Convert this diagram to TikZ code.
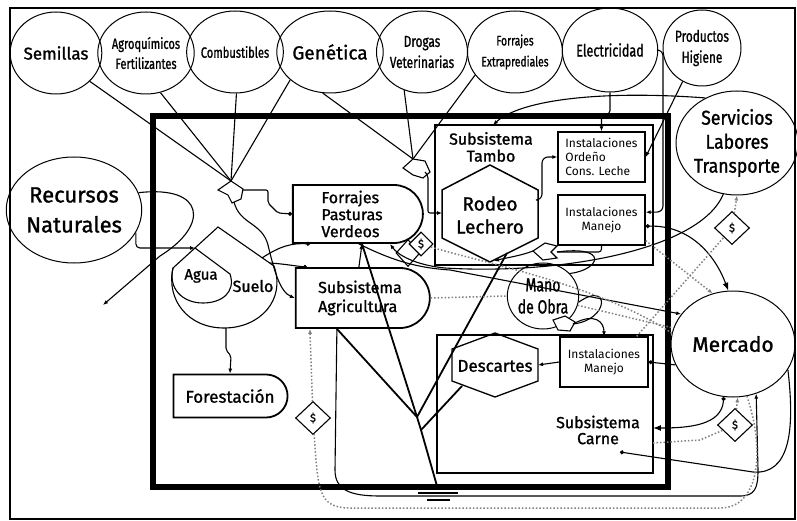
\documentclass[tikz,border=0pt]{standalone}
\usepackage{fontspec}
\setmainfont{Fira Sans}[FakeBold=1.2]
\newfontfamily\plainfont{Fira Sans}
\newfontfamily\narrowfont{Fira Sans}[FakeStretch=0.74, FakeBold=1]
\newfontfamily\semifont{Fira Sans}[FakeStretch=0.88, FakeBold=1.2]
\usetikzlibrary{arrows.meta,calc,positioning,shapes.geometric,shapes.misc}

\tikzset{
  src/.style={draw, ellipse, line width=1pt, inner sep=0pt, align=center},
  unitbox/.style={draw, rounded rectangle, rounded rectangle west arc=none, line width=1.8pt, inner sep=0pt, align=left, font=\fontsize{16}{17}\selectfont},
  instbox/.style={draw, rectangle, line width=1.4pt, inner sep=0pt, minimum width=87pt, minimum height=50pt, font=\plainfont\fontsize{12}{14}\selectfont},
  dollar/.style={draw, diamond, line width=1.1pt, inner sep=0pt, minimum width=35pt, minimum height=33pt, fill=white, font=\fontsize{11}{12}\selectfont},
  flow/.style={line width=1.1pt},
  money/.style={line width=1.5pt, dotted, black!50},
  pipe/.style={line width=1.8pt},
}

\begin{document}
\begin{tikzpicture}[x=1pt,y=-1pt,>={Latex[length=5pt,width=4pt]}]
  \useasboundingbox (0,0) rectangle (797,521);

  % Frames
  \draw[line width=1.8pt] (10,8) rectangle (795,519);
  \draw[line width=6pt] (153,116) rectangle (668,487);

  % Sources outside the farm
  \node[src, minimum width=84pt, minimum height=82pt, font=\fontsize{17}{18}\selectfont] (semillas) at (56,53) {Semillas};
  \node[src, minimum width=86pt, minimum height=82pt, font=\narrowfont\fontsize{15}{20}\selectfont] (agro) at (146,53) {Agroquímicos\\Fertilizantes};
  \node[src, minimum width=84pt, minimum height=82pt, font=\narrowfont\fontsize{15}{17}\selectfont] (comb) at (235,52) {Combustibles};
  \node[src, minimum width=86pt, minimum height=82pt, font=\fontsize{19}{21}\selectfont] (genet) at (330,52) {Genética};
  \node[src, minimum width=84pt, minimum height=82pt, font=\narrowfont\fontsize{16}{21}\selectfont] (drogas) at (422,52) {Drogas\\Veterinarias};
  \node[src, minimum width=82pt, minimum height=82pt, font=\narrowfont\fontsize{14}{21}\selectfont] (forrext) at (515,52) {Forrajes\\Extraprediales};
  \node[src, minimum width=86pt, minimum height=84pt, font=\narrowfont\fontsize{17}{19}\selectfont] (elec) at (610,50) {Electricidad};
  \node[src, minimum width=78pt, minimum height=76pt, font=\narrowfont\fontsize{16}{21}\selectfont] (prod) at (702,48) {Productos\\Higiene};
  \node[src, minimum width=122pt, minimum height=104pt, font=\semifont\fontsize{20}{24}\selectfont] (serv) at (737,143) {Servicios\\Labores\\Transporte};
  \node[src, minimum width=124pt, minimum height=106pt, font=\fontsize{22}{30}\selectfont] (recursos) at (74,210) {Recursos\\Naturales};
  \node[src, minimum width=124pt, minimum height=106pt, font=\fontsize{21}{24}\selectfont] (mercado) at (733,344) {Mercado};
  \node[src, minimum width=70pt, minimum height=66pt, font=\narrowfont\fontsize{19}{22}\selectfont] (mano) at (543,296) {Mano\\de Obra};

  % Soil and water
  \draw[flow] (218,227) -- (274,266) .. controls (286,300) and (260,328) .. (224,328)
    .. controls (188,328) and (166,300) .. (173,268) -- cycle;
  \draw[flow] (195,248) -- (230,274) .. controls (236,292) and (222,303) .. (203,303)
    .. controls (182,303) and (168,288) .. (173,268);
  \node[font=\fontsize{15}{16}\selectfont] (agua) at (201,276) {Agua};
  \node[font=\fontsize{16}{18}\selectfont] (suelo) at (253,286) {Suelo};
  \coordinate (aguatop) at (195,248);
  \coordinate (sueloE) at (262,258);
  \coordinate (sueloF) at (270,263);
  \coordinate (suelobot) at (226,328);

  % Units
  \node[unitbox, minimum width=130pt, minimum height=58pt] (forrajes) at (352,214) {Forrajes\\Pasturas\\Verdeos};
  \node[unitbox, minimum width=134pt, minimum height=60pt, font=\fontsize{16}{19}\selectfont] (agric) at (360,298) {Subsistema\\Agricultura};
  \node[unitbox, minimum width=114pt, minimum height=43pt, font=\fontsize{17}{19}\selectfont] (forest) at (230,396) {Forestación};

  % Subsistema Tambo
  \draw[line width=1.6pt] (435,125) rectangle (653,265);
  \node[font=\fontsize{16}{17}\selectfont, align=center] (tambo) at (491,147) {Subsistema\\Tambo};
  \draw[line width=1.5pt] (490,165) -- (538,190) -- (538,238) -- (490,262) -- (442,238) -- (442,190) -- cycle;
  \node[font=\fontsize{19}{23}\selectfont, align=center] (rodeo) at (490,215) {Rodeo\\Lechero};
  \node[instbox, align=left] (ordeno) at (601.5,157) {Instalaciones\\Ordeño\\Cons. Leche};
  \node[instbox, align=center] (manejoT) at (601.5,220) {Instalaciones\\Manejo};
  \coordinate (rodeoW) at (442,213);
  \coordinate (rodeoE) at (538,200);
  \coordinate (rodeoS) at (494,261);
  \coordinate (rodeoSE) at (507,253);

  % Subsistema Carne
  \draw[line width=1.4pt] (437,335) rectangle (653,473);
  \draw[line width=1.3pt] (495,333) -- (538,349) -- (538,381) -- (495,397) -- (452,381) -- (452,349) -- cycle;
  \node[font=\fontsize{17}{19}\selectfont] (descartes) at (495,366) {Descartes};
  \node[instbox, align=center, minimum width=88pt] (manejoC) at (604,362) {Instalaciones\\Manejo};
  \node[font=\fontsize{16}{16}\selectfont, align=center] (carne) at (598,430) {Subsistema\\Carne};
  \coordinate (descE) at (538,365);
  \coordinate (descSW) at (462,386);
  \coordinate (carneE) at (653,428);
  \coordinate (carneE2) at (653,443);

  % Interactions
  \draw[flow, fill=white] (218,190) -- (231,181) -- (243,189) -- (241,199) -- (232,203) -- (228,195) -- cycle;
  \draw[flow, fill=white] (403,168) -- (413,159) -- (425,161) -- (430,172) -- (423,178) -- (413,175) -- cycle;
  \draw[flow, fill=white] (557,246) -- (545,243) -- (533,251) -- (543,260) -- (557,258) -- (551,252) -- cycle;
  \draw[flow, fill=white] (553,320) -- (565,316) -- (575,322) -- (570,331) -- (558,330) -- cycle;
  \coordinate (int1) at (231,181);
  \coordinate (int1E) at (243,190);
  \coordinate (int1S) at (234,202);
  \coordinate (int2) at (413,159);
  \coordinate (int2S) at (425,172);
  \coordinate (int3E) at (557,252);
  \coordinate (int3W) at (533,251);
  \coordinate (int5) at (565,316);
  \coordinate (int5E) at (573,324);

  % Heat sink
  \draw[line width=2.6pt] (407,487) -- (470,487);
  \draw[line width=2.4pt] (418,493) -- (458,493);
  \draw[line width=2.4pt] (427,500) -- (450,500);
  \coordinate (sink) at (437,486);
  \coordinate (j1) at (417,417);
  \coordinate (j2) at (421,430);

  % Money
  \node[dollar] (dolS) at (732,228) {\$};
  \node[dollar] (dolM) at (735,425) {\$};
  \node[dollar] (dolL) at (313,418) {\$};
  \node[dollar, minimum width=24pt, minimum height=27pt] (dolF2) at (408,253) {};
  \node[dollar, minimum width=24pt, minimum height=24pt] (dolF) at (421,244) {\$};

  % Inputs to the first interaction
  \foreach \s/\a in {semillas/-40, agro/-70, comb/-88, genet/-145}
    \draw[flow] (\s.\a) -- (int1);
  % Inputs to the second interaction
  \foreach \s/\a in {genet/-100, drogas/-115, forrext/-150}
    \draw[flow] (\s.\a) -- (int2);

  % Flows into forage and agriculture
  \draw[flow, -{Circle[length=4pt]}, rounded corners=2pt] (int1E) -- (268,190) -- (268,203) -- (278,213) -- (forrajes.west);
  \draw[flow, ->] (int1S) .. controls (240,225) and (262,222) .. (268,245) .. controls (274,270) and (280,292) .. (agric.west);
  \draw[flow, -{Circle[length=4pt]}] (sueloE) .. controls (280,246) and (292,243) .. ([xshift=18pt]forrajes.south west);
  \draw[flow, -{Circle[length=4pt]}] (sueloF) .. controls (285,264) and (295,266) .. ([xshift=12pt]agric.north west);
  \draw[flow, ->] ([xshift=64pt]agric.north west) -- ([xshift=70pt]forrajes.south west);

  % Natural resources
  \draw[flow, ->] (recursos.15) .. controls (205,185) and (210,225) .. (160,256) -- (103,305);
  \draw[flow, ->, rounded corners=4pt] (recursos.-20) |- (aguatop);
  \draw[flow, ->, rounded corners=2pt] (suelobot) -- (226,350) -- (231,356) -- (forest.north);

  % Dairy unit
  \draw[flow, ->, rounded corners=2pt] (int2S) -- (428,176) |- (rodeoW);
  \draw[flow, ->, rounded corners=6pt] (rodeoE) -- (542,200) |- (ordeno.west);
  \draw[flow, rounded corners=3pt] (manejoT.south) |- (int3E);
  \draw[flow, ->] (int3W) .. controls (520,256) and (505,258) .. (rodeoS);
  \draw[flow, ->, rounded corners=4pt] (elec.south) -- ++(0,22) -| (ordeno.north);
  \draw[flow, ->, rounded corners=6pt] (elec.east) -| (663,212) -- (manejoT.10);
  \draw[flow, ->] (prod.-120) -- (ordeno.east);
  \draw[flow, ->] (serv.125) .. controls (600,90) and (520,100) .. (493,125);
  \draw[flow, {Circle[length=4pt]}-{Latex}] (manejoT.-8) .. controls (690,225) and (715,255) .. (mercado.95);

  % Labour
  \draw[flow] (mano.40) .. controls (600,270) and (610,245) .. (int3E);
  \draw[flow] (mano.-10) .. controls (610,280) and (610,320) .. (int5E);
  \draw[flow, ->] (int5E) .. controls (595,312) and (604,322) .. (manejoC.north);

  % Beef unit
  \draw[flow, ->] (manejoC.west) -- (descE);
  \draw[flow, {Circle[length=4pt]}-] (manejoC.east) -- (mercado.200);
  \draw[flow, {Circle[length=4pt]}-{Latex}] (mercado.-100) .. controls (722,425) and (690,428) .. (carneE);
  \draw[flow, -{Circle[length=4pt]}] (mercado.-25) .. controls (795,430) and (790,475) .. (753,472) -- (620,452);

  % Services and market flows
  \draw[flow, ->] (serv.-105) .. controls (700,250) and (560,275) .. (445,268) .. controls (415,265) and (398,255) .. (390,244);
  \draw[flow, ->] ([xshift=-35pt]forrajes.south east) .. controls (395,262) and (420,268) .. (450,270) -- (mercado.150);
  \draw[flow, ->] ([xshift=42pt]agric.south west) -- (335,470) .. controls (335,490) and (350,496) .. (380,496)
    -- (740,496) .. controls (755,496) and (758,488) .. (758,470) -- (mercado.-65);

  % Dissipation to the heat sink
  \draw[pipe] ([xshift=42pt]agric.south west) -- (j1);
  \draw[pipe] ([xshift=10pt]forrajes.south) -- (j1);
  \draw[pipe] (rodeoSE) -- (j1);
  \draw[pipe] (descSW) -- (j2);
  \draw[pipe] (j1) -- (j2) -- (sink);

  % Money flows
  \draw[money, ->] ([xshift=-12pt]manejoC.north east) -- (dolS) -- (serv.-90);
  \draw[money, ->] (manejoT.-25) -- (mercado.112);
  \draw[money] (mercado.170) .. controls (600,285) and (480,262) .. (dolF);
  \draw[money] (agric.east) -- (mano.west);
  \draw[money] (mano.-15) -- (mercado.165);
  \draw[money, ->] (carneE2) -- (700,440) -- (dolM) -- (mercado.-85);
  \draw[money, ->] (mercado.-75) .. controls (765,450) and (760,508) .. (720,508) -- (350,508)
    .. controls (318,508) and (318,490) .. (dolL) -- ([xshift=15pt]agric.south west);
\end{tikzpicture}
\end{document}
